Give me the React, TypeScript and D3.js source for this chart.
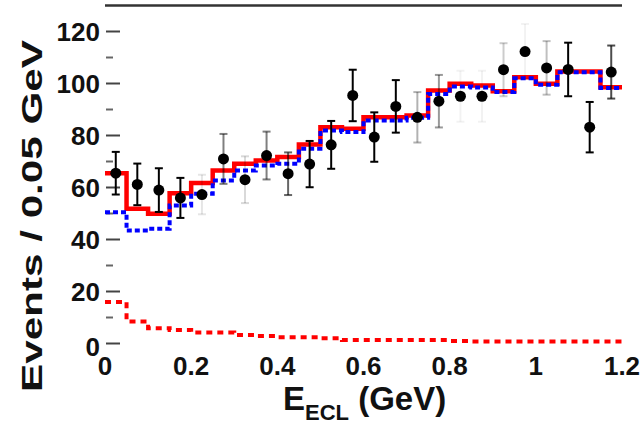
import { useEffect, useRef } from 'react';
import * as d3 from 'd3';

const W = 643;
const H = 425;

// 24 bins of 0.05 GeV from 0 to 1.2
const binWidth = 0.05;

const dataCounts = [65.5, 61.2, 59, 56, 57.3, 71, 63, 72.3, 65.3, 69, 76.4, 95.4,
  79.4, 91.2, 87, 93.2, 95.1, 95.1, 105.3, 112.3, 106, 105.4, 83.2, 104.4];
const dataErrors = [8.2, 8, 8.4, 7.7, 7.6, 9.6, 9, 9.2, 8.2, 8.9, 9.2, 9.9,
  9.5, 10.1, 9.7, 10.1, 9.8, 9.8, 10.2, 10.6, 10.3, 10.3, 9.7, 10.2];

const totalFit = [65.5, 51.8, 49.9, 57.8, 61.7, 66.5, 69.1, 70.4, 71.7, 76.5, 83.2, 82.6,
  87, 87, 87.7, 97.3, 99.9, 99.2, 97, 102.4, 99.9, 104.6, 104.6, 98.6];
const bluePart = [50.5, 43.5, 44.1, 53.1, 57.6, 62.7, 66.5, 68.5, 69.1, 74.9, 81.9, 81.3,
  85.8, 85.8, 86.8, 96, 98.8, 98.5, 96.7, 102, 99.5, 104.3, 104.3, 98.3];
const redPart = [16, 8.5, 5.9, 5.2, 4.2, 4.2, 3.3, 2.9, 2.4, 2.4, 2.0, 1.3,
  1.3, 1.3, 1.3, 1.3, 1.0, 0.8, 0.8, 0.8, 0.8, 0.8, 0.8, 0.8];

const xTicks = [0, 0.2, 0.4, 0.6, 0.8, 1, 1.2];
const xTickLabels = ['0', '0.2', '0.4', '0.6', '0.8', '1', '1.2'];
const yTicks = [0, 20, 40, 60, 80, 100, 120];
const yMinorTicks = [10, 30, 50, 70, 90, 110];

// how strongly each error bar shows in the (blurred) original
const barTone = [1, 1, 1, 1, 0.1, 0.5, 0.15, 0.5, 0.6, 1, 1, 1,
  1, 1, 0.3, 0.4, 0.05, 0.05, 0.2, 0.05, 0.25, 1, 1, 0.7];

const FONT = '"Liberation Sans", Arial, Helvetica, sans-serif';

export default function App() {
  const svgRef = useRef<SVGSVGElement>(null);

  useEffect(() => {
    if (!svgRef.current) return;
    const svg = d3.select(svgRef.current);
    svg.selectAll('*').remove();

    const x = d3.scaleLinear().domain([0, 1.2]).range([105, 622]);
    const y = d3.scaleLinear().domain([0, 130]).range([343.5, 5.5]);

    const stepPoints = (vals: number[]) => {
      const pts: [number, number][] = vals.map((v, i) => [i * binWidth, v]);
      pts.push([vals.length * binWidth, vals[vals.length - 1]]);
      return pts;
    };
    const step = d3.line<[number, number]>()
      .x(d => x(d[0]))
      .y(d => y(d[1]))
      .curve(d3.curveStepAfter);

    // top frame line
    svg.append('line')
      .attr('x1', x(0)).attr('x2', x(1.2))
      .attr('y1', y(130)).attr('y2', y(130))
      .attr('stroke', '#333').attr('stroke-width', 2.5);

    // y ticks
    svg.selectAll('.ymaj')
      .data(yTicks)
      .enter().append('line')
      .attr('x1', 106).attr('x2', 120)
      .attr('y1', d => y(d)).attr('y2', d => y(d))
      .attr('stroke', '#444').attr('stroke-width', 2);
    svg.selectAll('.ymin')
      .data(yMinorTicks)
      .enter().append('line')
      .attr('x1', 106).attr('x2', 113)
      .attr('y1', d => y(d)).attr('y2', d => y(d))
      .attr('stroke', '#666').attr('stroke-width', 2);

    svg.selectAll('.ylab')
      .data(yTicks)
      .enter().append('text')
      .attr('x', 100)
      .attr('y', d => y(d) + (d === 0 ? 3 : 0))
      .attr('text-anchor', 'end')
      .attr('dominant-baseline', 'central')
      .attr('font-family', FONT).attr('font-weight', 'bold').attr('font-size', 26)
      .attr('fill', '#111')
      .text(d => String(d));

    svg.selectAll('.xlab')
      .data(xTicks)
      .enter().append('text')
      .attr('x', d => x(d))
      .attr('y', 375)
      .attr('text-anchor', 'middle')
      .attr('font-family', FONT).attr('font-weight', 'bold').attr('font-size', 26)
      .attr('fill', '#111')
      .text((d, i) => xTickLabels[i]);

    // axis titles
    const xt = svg.append('text')
      .attr('x', 283).attr('y', 410)
      .attr('font-family', FONT).attr('font-weight', 'bold').attr('font-size', 33)
      .attr('fill', '#111');
    xt.append('tspan').text('E');
    xt.append('tspan').attr('dy', 10).attr('font-size', 22).text('ECL');
    xt.append('tspan').attr('dy', -10).text(' (GeV)');

    svg.append('text')
      .attr('transform', 'translate(42,216) rotate(-90)')
      .attr('text-anchor', 'middle')
      .attr('font-family', FONT).attr('font-weight', 'bold').attr('font-size', 30)
      .attr('textLength', 352).attr('lengthAdjust', 'spacingAndGlyphs')
      .attr('fill', '#111')
      .text('Events / 0.05 GeV');

    // histograms
    svg.append('path')
      .attr('d', step(stepPoints(redPart)))
      .attr('fill', 'none').attr('stroke', '#ff0000')
      .attr('stroke-width', 4).attr('stroke-dasharray', '6 5');

    svg.append('path')
      .attr('d', step(stepPoints(totalFit)))
      .attr('fill', 'none').attr('stroke', '#ff0000')
      .attr('stroke-width', 4.5);

    svg.append('path')
      .attr('d', step(stepPoints(bluePart)))
      .attr('fill', 'none').attr('stroke', '#0000ff')
      .attr('stroke-width', 4).attr('stroke-dasharray', '5 3');

    // data points with error bars
    const pts = svg.selectAll('.pt')
      .data(dataCounts.map((c, i) => ({ c, e: dataErrors[i], i })))
      .enter().append('g');

    pts.append('line')
      .attr('x1', d => x((d.i + 0.5) * binWidth)).attr('x2', d => x((d.i + 0.5) * binWidth))
      .attr('y1', d => y(d.c + d.e)).attr('y2', d => y(d.c - d.e))
      .attr('stroke', '#000').attr('stroke-width', 2)
      .attr('stroke-opacity', d => barTone[d.i]);
    [1, -1].forEach(s => {
      pts.append('line')
        .attr('x1', d => x((d.i + 0.5) * binWidth) - 4).attr('x2', d => x((d.i + 0.5) * binWidth) + 4)
        .attr('y1', d => y(d.c + s * d.e)).attr('y2', d => y(d.c + s * d.e))
        .attr('stroke', '#000').attr('stroke-width', 2)
        .attr('stroke-opacity', d => barTone[d.i]);
    });
    pts.append('circle')
      .attr('cx', d => x((d.i + 0.5) * binWidth))
      .attr('cy', d => y(d.c))
      .attr('r', 5.5)
      .attr('fill', '#000');
  }, []);

  return (
    <svg
      ref={svgRef}
      width={W}
      height={H}
      style={{ position: 'absolute', left: 0, top: 0, background: '#fff' }}
    />
  );
}
